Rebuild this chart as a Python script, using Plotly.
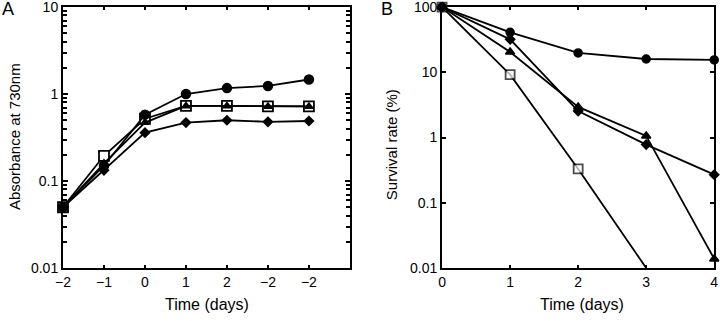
import plotly.graph_objects as go

# Panel A data
a_labels = ["\u22122", "\u22121", "0", "1", "2", "\u22122", "\u22122"]
a_circle = [0.05, 0.15, 0.58, 1.0, 1.17, 1.24, 1.47]
a_square = [0.05, 0.195, 0.52, 0.73, 0.73, 0.72, 0.72]
a_triangle = [0.05, 0.16, 0.47, 0.73, 0.73, 0.72, 0.72]
a_diamond = [0.05, 0.133, 0.36, 0.47, 0.50, 0.48, 0.49]

# Panel B data
b_days = [0, 1, 2, 3, 4]
b_circle = [100, 41, 19.8, 16, 15.5]
b_diamond = [100, 32, 2.55, 0.78, 0.27]
b_triangle = [100, 20.5, 2.95, 1.06, 0.0138]
b_square_days = [0, 1, 2, 3]
b_square = [100, 9.2, 0.33, 0.01]

a_major = [0.01, 0.1, 1, 10]
a_minor = [m * d for d in (0.01, 0.1, 1) for m in range(2, 10)]
b_major = [0.01, 0.1, 1, 10, 100]

FONT = "Liberation Sans, Arial, sans-serif"
fig = go.Figure()

ax = list(range(len(a_labels)))
line = dict(color="black", width=1.8)

def add(x, y, symbol, size, xa, ya, fill="black", sizes=None, lw=1.5):
    fig.add_trace(go.Scatter(
        x=x, y=y, mode="lines+markers", xaxis=xa, yaxis=ya,
        line=line, cliponaxis=False,
        marker=dict(symbol=symbol, size=sizes if sizes else size, color=fill,
                    line=dict(color="black", width=lw)),
        showlegend=False))

add(ax, a_diamond, "diamond", 7, "x", "y")
add(ax, a_square, "square", 10, "x", "y", fill="white", lw=1.8)
add(ax, a_triangle, "triangle-up", 7, "x", "y")
add(ax, a_circle, "circle", 9, "x", "y")

add(b_days, b_diamond, "diamond", 7, "x2", "y2")
add(b_days, b_triangle, "triangle-up", 8, "x2", "y2")
add(b_square_days, b_square, "square", 9, "x2", "y2", fill="white", sizes=[9, 9, 9, 0], lw=1.8)
add(b_days, b_circle, "circle", 8, "x2", "y2")

axis_common = dict(showline=True, linecolor="black", linewidth=2, mirror="ticks",
                   showgrid=False, zeroline=False, ticks="inside",
                   ticklabeloverflow="allow", automargin=False,
                   tickcolor="black", tickfont=dict(family=FONT, size=14, color="black"))

def txt(s, x, y, size, angle=0, xanchor="center", yanchor="middle"):
    return dict(text=s, x=x, y=y, xref="paper", yref="paper", xanchor=xanchor,
                yanchor=yanchor, textangle=angle, showarrow=False,
                font=dict(family=FONT, size=size, color="black"))

fig.update_layout(
    width=720, height=321, margin=dict(l=0, r=0, t=0, b=0, autoexpand=False),
    paper_bgcolor="white", plot_bgcolor="white",
    font=dict(family=FONT, size=16, color="black"),
    xaxis=dict(domain=[0.0875, 0.486], anchor="y", range=[0, 7],
               tickvals=ax, ticktext=a_labels, ticklen=3, tickwidth=1.5,
               **axis_common),
    yaxis=dict(domain=[0.165, 0.978], anchor="x", type="log", range=[-2, 1],
               tickvals=a_major, ticktext=["0.01", "0.1", "1", "10"],
               ticklen=5, tickwidth=1.5,
               minor=dict(ticks="inside", ticklen=3.5, tickcolor="black", tickwidth=1.5,
                          tickvals=a_minor),
               **axis_common),
    xaxis2=dict(domain=[0.614, 0.992], anchor="y2", range=[0, 4],
                tickvals=b_days, ticklen=3, tickwidth=1.5,
                **axis_common),
    yaxis2=dict(domain=[0.165, 0.978], anchor="x2", type="log", range=[-2, 2],
                tickvals=b_major, ticktext=["0.01", "0.1", "1", "10", "100"],
                ticklen=4, tickwidth=1.5,
                **axis_common),
    annotations=[
        txt("A", 0.0, 1.01, 18, xanchor="left", yanchor="top"),
        txt("B", 0.527, 1.01, 18, xanchor="left", yanchor="top"),
        txt("Absorbance at 730nm", 0.0194, 0.576, 15, angle=-90),
        txt("Survival rate (%)", 0.544, 0.55, 15, angle=-90),
        txt("Time (days)", 0.287, 0.05, 16),
        txt("Time (days)", 0.809, 0.05, 16),
    ],
)

fig.write_html("out.html")
